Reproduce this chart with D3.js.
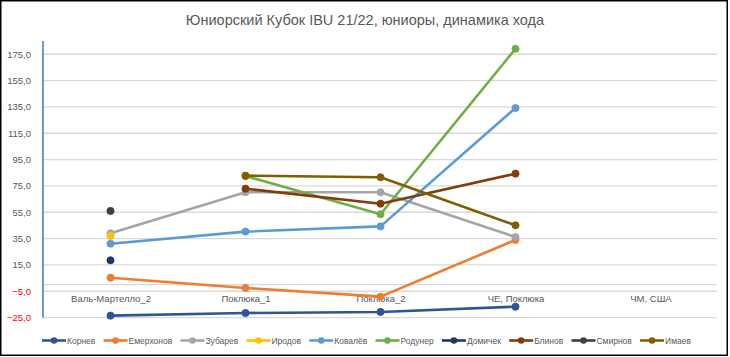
<!DOCTYPE html>
<html><head><meta charset="utf-8">
<script src="https://cdn.jsdelivr.net/npm/d3@7"></script>
<style>body{margin:0;background:#fff}svg{display:block}text{font-family:"Liberation Sans",Arial,sans-serif}</style>
</head><body>
<script>
const title = "Юниорский Кубок IBU 21/22, юниоры, динамика хода";
const categories = ["Валь-Мартелло_2","Поклюка_1","Поклюка_2","ЧЕ, Поклюка","ЧМ, США"];
const yTicks = [-25,-5,15,35,55,75,95,115,135,155,175];
const seriesNames = ["Корнев","Емерхонов","Зубарев","Иродов","Ковалёв","Родунер","Домичек","Блинов","Смирнов","Имаев"];
const seriesColors = ["#2F5597","#ED7D31","#A5A5A5","#FFC000","#5B9BD5","#70AD47","#1F3864","#843C0C","#404040","#7F6000"];
const korneev   = [-23.5,-21.5,-20.7,-16.7,null];
const emerkhonov= [5.3,-2.5,-9.1,34.0,null];
const zubarev   = [39.0,70.2,70.2,36.2,null];
const irodov    = [37.0,null,null,null,null];
const kovalev   = [31.1,40.3,44.3,134.2,null];
const rodyner   = [null,82.5,53.5,179.2,null];
const domichek  = [18.5,null,null,null,null];
const blinov    = [null,72.9,61.5,84.3,null];
const smirnov   = [56.0,null,null,null,null];
const imaev     = [null,82.8,81.6,45.1,null];
const seriesValues = [korneev,emerkhonov,zubarev,irodov,kovalev,rodyner,domichek,blinov,smirnov,imaev];

const W=730,H=357;
const svg=d3.select("body").append("svg").attr("width",W).attr("height",H);
svg.append("rect").attr("x",0.75).attr("y",0.75).attr("width",726.5).attr("height",354.5)
  .attr("fill","#fff").attr("stroke","#000").attr("stroke-width",1.5);

const x=d3.scalePoint().domain(categories).range([43,718]).padding(0.5);
const y=d3.scaleLinear().domain([-25,185]).range([317.6,41.1]);

// gridlines
const grid=svg.append("g");
grid.selectAll("line").data(yTicks.concat([0])).join("line")
  .attr("x1",43).attr("x2",717).attr("y1",d=>y(d)).attr("y2",d=>y(d))
  .attr("stroke","#D9D9D9").attr("stroke-width",1.3);

// y axis
const yAxis=d3.axisLeft(y).tickValues(yTicks).tickSize(0).tickPadding(12)
  .tickFormat(d=>d3.format(".1f")(d).replace(".",","));
const gy=svg.append("g").attr("transform","translate(43,0)").call(yAxis);
gy.select(".domain").remove();
gy.selectAll("text").attr("font-size",9.5).attr("fill",d=>d<0?"#FF0000":"#595959")
  .attr("font-family","Liberation Sans, Arial, sans-serif");
svg.append("line").attr("x1",43).attr("x2",43).attr("y1",y(185)).attr("y2",y(-25))
  .attr("stroke","#4472C4").attr("stroke-width",1.5);

// x axis labels (below zero line)
const xAxis=d3.axisBottom(x).tickSize(0).tickPadding(11);
const gx=svg.append("g").attr("transform",`translate(0,${y(0)})`).call(xAxis);
gx.select(".domain").remove();
gx.selectAll("text").attr("font-size",9.5).attr("fill","#595959")
  .attr("font-family","Liberation Sans, Arial, sans-serif");

// series
const line=d3.line().defined(d=>d.v!=null).x(d=>x(d.c)).y(d=>y(d.v));
seriesNames.forEach((name,i)=>{
  const pts=categories.map((c,j)=>({c,v:seriesValues[i][j]}));
  const g=svg.append("g");
  g.append("path").attr("d",line(pts)).attr("fill","none")
    .attr("stroke",seriesColors[i]).attr("stroke-width",2.6).attr("stroke-linejoin","round");
  g.selectAll("circle").data(pts.filter(d=>d.v!=null)).join("circle")
    .attr("cx",d=>x(d.c)).attr("cy",d=>y(d.v)).attr("r",3.6)
    .attr("fill",seriesColors[i]).attr("stroke",seriesColors[i]).attr("stroke-width",0.8);
});

// title
svg.append("text").attr("x",365).attr("y",25).attr("text-anchor","middle")
  .attr("font-size",14.5).attr("fill","#595959").text(title);

// legend
const lg=svg.append("g");
const items=seriesNames.map((name,i)=>{
  const it=lg.append("g");
  it.append("line").attr("x1",0).attr("x2",24).attr("y1",0).attr("y2",0)
    .attr("stroke",seriesColors[i]).attr("stroke-width",2.6);
  it.append("circle").attr("cx",12).attr("cy",0).attr("r",3.3).attr("fill",seriesColors[i]);
  const t=it.append("text").attr("x",25).attr("y",3.2).attr("font-size",8.5).attr("fill","#595959").text(name);
  return {it,w:25+t.node().getComputedTextLength()};
});
const targetW=649;
const sumW=d3.sum(items,d=>d.w);
const gap=Math.max(3,(targetW-sumW)/(items.length-1));
let cx=0;
items.forEach(d=>{d.it.attr("transform",`translate(${cx},0)`);cx+=d.w+gap;});
const total=cx-gap;
lg.attr("transform",`translate(${366.5-total/2},340.5)`);
</script>
</body></html>
